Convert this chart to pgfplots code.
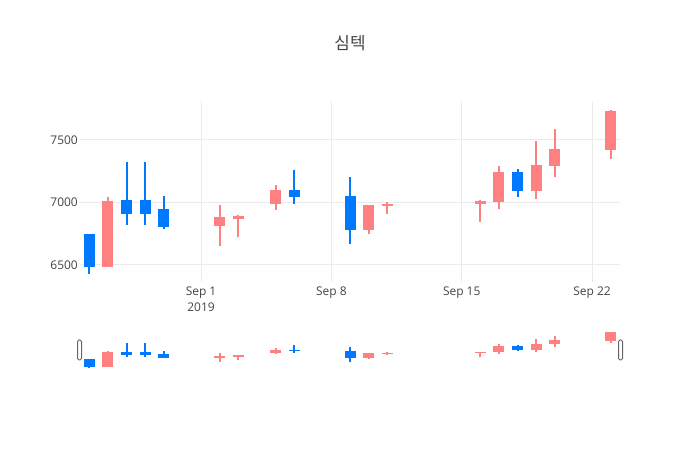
\documentclass[border=0pt]{standalone}
\usepackage{pgfplots}
\pgfplotsset{compat=1.18}
\usepackage{pgfplotstable}
\usepackage{fontspec}
\setmainfont{Open Sans}
\newfontfamily\kr{Noto Sans CJK KR}

\definecolor{upc}{RGB}{255,128,128}
\definecolor{downc}{RGB}{0,121,255}
\definecolor{gridc}{RGB}{235,235,235}
\definecolor{tickc}{RGB}{68,68,68}
\definecolor{handlec}{RGB}{102,102,102}

% day: days from Sep 1 2019
\pgfplotstableread{
d  o    h    l    c
-5 6480 7040 6480 7010
1  6810 6980 6650 6880
2  6870 6900 6720 6890
4  6990 7140 6940 7100
9  6780 6980 6750 6980
10 6970 7000 6910 6990
15 6990 7020 6840 7010
16 7000 7290 6950 7240
18 7090 7490 7030 7300
19 7290 7590 7200 7430
22 7420 7740 7350 7730
}\up
\pgfplotstableread{
d  o    h    l    c
-6 6750 6750 6430 6480
-4 7020 7320 6820 6910
-3 7020 7320 6820 6910
-2 6950 7050 6790 6800
5  7100 7260 6990 7040
8  7050 7200 6670 6780
17 7240 7270 7040 7090
}\down

\pgfplotsset{
  wick/.style={only marks, mark=*, mark size=0pt,
    mark options={draw=none, fill=none},
    error bars/.cd, y dir=both, y explicit, error mark=none,
    error bar style={line width=2bp, color=#1}},
  body/.style={only marks, mark=*, mark size=0pt,
    mark options={draw=none, fill=none},
    error bars/.cd, y dir=both, y explicit, error mark=none,
    error bar style={line width=11bp, color=#1}},
}
\newcommand{\candles}{%
  \addplot[wick=upc] table[x=d, y expr={(\thisrow{h}+\thisrow{l})/2}, y error expr={(\thisrow{h}-\thisrow{l})/2}] {\up};
  \addplot[body=upc] table[x=d, y expr={(\thisrow{o}+\thisrow{c})/2}, y error expr={abs(\thisrow{c}-\thisrow{o})/2}] {\up};
  \addplot[wick=downc] table[x=d, y expr={(\thisrow{h}+\thisrow{l})/2}, y error expr={(\thisrow{h}-\thisrow{l})/2}] {\down};
  \addplot[body=downc] table[x=d, y expr={(\thisrow{o}+\thisrow{c})/2}, y error expr={abs(\thisrow{c}-\thisrow{o})/2}] {\down};
}

\begin{document}
\begin{tikzpicture}
\useasboundingbox (0,0) rectangle (700bp,450bp);
\node[font=\kr\fontsize{17}{20}\selectfont, text=tickc] at (350bp,407bp) {심텍};

\begin{axis}[
    at={(80bp,168.2bp)}, anchor=south west,
    scale only axis, width=540bp, height=180.3bp,
    xmin=-6.5, xmax=22.5, ymin=6364, ymax=7806,
    axis line style={draw=none}, tick style={draw=none},
    xtick={0,7,14,21},
    xticklabels={{Sep 1\\2019},{Sep 8},{Sep 15},{Sep 22}},
    ytick={6500,7000,7500},
    grid=major, major grid style={line width=1bp, color=gridc},
    ticklabel style={font=\fontsize{12}{16}\selectfont, text=tickc},
    xticklabel style={align=center, inner sep=0pt, yshift=-5bp},
    yticklabel style={inner sep=0pt, xshift=-2bp},
    /pgf/number format/assume math mode=true,
    /pgf/number format/1000 sep={},
]
\candles
\end{axis}

\begin{axis}[
    at={(80bp,80bp)}, anchor=south west,
    scale only axis, width=540bp, height=40bp,
    xmin=-6.5, xmax=22.5, ymin=6364, ymax=7806,
    hide axis, clip=false,
]
\candles
\draw[fill=white, draw=handlec, line width=1bp, rounded corners=1.5bp]
  ([xshift=-2.5bp]rel axis cs:0,0.25) rectangle ([xshift=1.5bp]rel axis cs:0,0.75);
\draw[fill=white, draw=handlec, line width=1bp, rounded corners=1.5bp]
  ([xshift=-1.5bp]rel axis cs:1,0.25) rectangle ([xshift=2.5bp]rel axis cs:1,0.75);
\end{axis}
\end{tikzpicture}
\end{document}
